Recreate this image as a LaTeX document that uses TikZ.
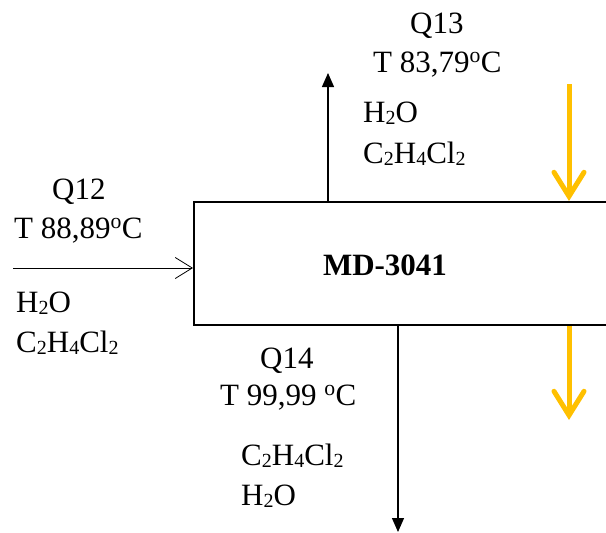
\documentclass[tikz,border=0pt]{standalone}
\usepackage{fontspec}
\setmainfont{Liberation Serif}
\usetikzlibrary{arrows.meta}
\tikzset {
  stream style/.style = {
    anchor=base west,
    inner sep=0pt,
    font=\fontsize{31}{37}\selectfont
  },
  unit style/.style = {
    draw=black,
    line width=2pt,
    inner sep=0pt
  },
  feed style/.style = {
    line width=0.8pt,
    -{Straight Barb[length=17pt,width=21pt]}
  },
  product style/.style = {
    line width=1.3pt,
    -{Triangle[length=14pt,width=12pt]}
  },
  heat style/.style = {
    draw={rgb,255:red,255;green,192;blue,0},
    line width=5pt,
    -{Straight Barb[length=24pt,width=30pt,line cap=round]}
  }
}
\newcommand{\sub}[1]{\raisebox{-0.09em}{\fontsize{20}{20}\selectfont #1}}
\newcommand{\degr}{\textsuperscript{o}}

\begin{document}
\begin{tikzpicture}[x=1pt, y=-1pt]

\clip (0,0) rectangle (606,533);
\useasboundingbox (0,0) rectangle (606,533);

% --- Unit ---
\node[unit style, minimum width=460pt, minimum height=123pt, anchor=north west]
  (md) at (193,201) {};
\node[stream style, anchor=base, font=\fontsize{31}{37}\selectfont\bfseries]
  (mdlabel) at (385,275) {MD-3041};

% --- Streams ---
\coordinate (in12)  at ( 13,268);
\coordinate (out13) at (328, 73);
\coordinate (out14) at (398,532);
\coordinate (heatA) at (569, 84);
\coordinate (heatB) at (569,420);

\draw[feed style]    (in12) -- (in12 -| md.west);
\draw[product style] (out13 |- md.north) -- (out13);
\draw[product style] (out14 |- md.south) -- (out14);
\draw[heat style]    (heatA) -- (heatA |- md.north);
\draw[heat style]    (heatB |- md.south) -- (heatB);

% --- Labels ---
\node[stream style] (q12)   at ( 52,199) {Q12};
\node[stream style] (t12)   at ( 14,238) {T 88,89\degr C};
\node[stream style] (w12)   at ( 16,312) {H\sub{2}O};
\node[stream style] (d12)   at ( 16,352) {C\sub{2}H\sub{4}Cl\sub{2}};

\node[stream style] (q13)   at (410, 33) {Q13};
\node[stream style] (t13)   at (373, 72) {T 83,79\degr C};
\node[stream style] (w13)   at (363,122) {H\sub{2}O};
\node[stream style] (d13)   at (363,163) {C\sub{2}H\sub{4}Cl\sub{2}};

\node[stream style] (q14)   at (260,368) {Q14};
\node[stream style] (t14)   at (220,405) {T 99,99 \degr C};
\node[stream style] (d14)   at (241,465) {C\sub{2}H\sub{4}Cl\sub{2}};
\node[stream style] (w14)   at (241,505) {H\sub{2}O};

\end{tikzpicture}
\end{document}
